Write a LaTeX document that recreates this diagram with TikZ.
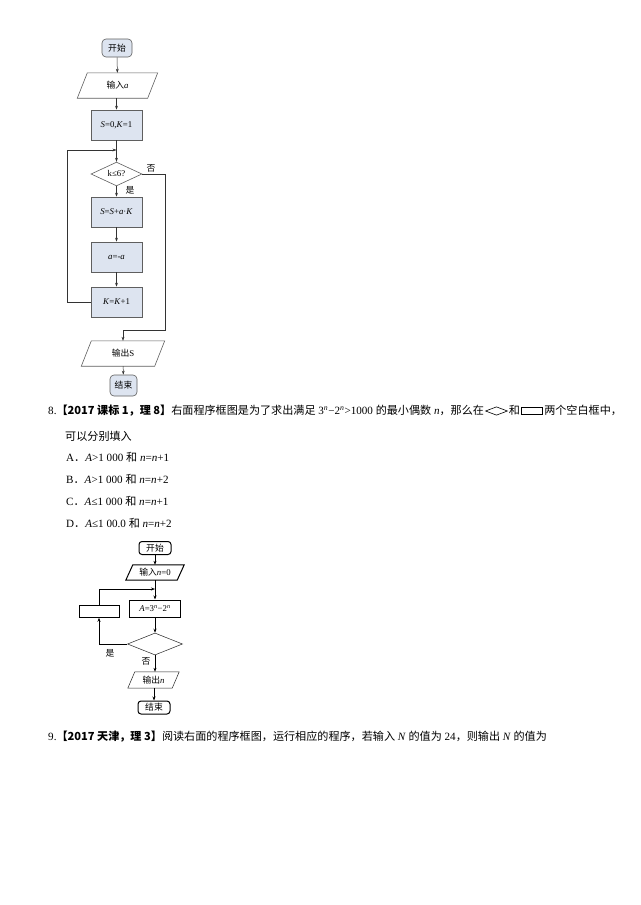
\documentclass[tikz,border=0pt]{standalone}
\usepackage{fontspec}
\setmainfont{Liberation Serif}
\newfontfamily\cjk{Noto Sans CJK SC}
\usetikzlibrary{shapes.geometric,arrows.meta,calc}
\definecolor{boxblue}{RGB}{221,228,240}
\definecolor{boxline}{RGB}{95,95,95}
\newcommand\pgm[3]{\draw[#1] ($(#2.south west)+(-#3,0)$) -- ($(#2.north west)+(#3,0)$) -- ($(#2.north east)+(#3,0)$) -- ($(#2.south east)+(-#3,0)$) -- cycle;}
\begin{document}
\begin{tikzpicture}[x=1pt,y=-1pt,
  fc/.style={draw=boxline, fill=boxblue, line width=0.6pt, inner sep=0, font=\fontsize{8.8}{10}\selectfont},
  fcr/.style={fc, rounded corners=4pt},
  fcp/.style={inner sep=0, font=\fontsize{8.8}{10}\selectfont},
  fcd/.style={fc, diamond, fill=white},
  ar/.style={draw=black!80, line width=0.5pt, -{Stealth[length=4pt,width=2.8pt]}},
  ln/.style={draw=black!80, line width=0.5pt},
  lb/.style={inner sep=0, font=\fontsize{8.8}{10}\selectfont},
  tb/.style={draw=black, line width=1pt, inner sep=0, font=\fontsize{8.8}{10}\selectfont},
  tn/.style={draw=black!85, line width=0.5pt, inner sep=0, font=\fontsize{8.8}{10}\selectfont},
  ar2/.style={draw=black, line width=0.6pt, -{Stealth[length=4pt,width=3pt]}},
  ln2/.style={draw=black, line width=0.6pt},
  tx/.style={inner sep=0, anchor=west, text height=8.5pt, text depth=2.5pt, font=\fontsize{11.1}{13}\selectfont},
]
\useasboundingbox[fill=white] (0,0) rectangle (640,905);

% ---------- first flowchart ----------
\node[fcr, minimum width=30, minimum height=18] (st) at (117,48) {\cjk 开始};
\node[fcp, minimum width=70, minimum height=25] (in) at (117.5,85.5) {{\cjk 输入}\textit{a}};
\pgm{draw=boxline, line width=0.6pt}{in}{5}
\node[fc, minimum width=51, minimum height=30] (ini) at (116.5,125) {\textit{S}=0,\textit{K}=1};
\node[fcd, minimum width=51, minimum height=22] (d1) at (116.5,174) {k≤6?};
\node[fc, minimum width=51, minimum height=30] (b1) at (116.5,212) {\textit{S}=\textit{S}+\textit{a}·\textit{K}};
\node[fc, minimum width=51, minimum height=30] (b2) at (116.5,257) {\textit{a}=-\textit{a}};
\node[fc, minimum width=51, minimum height=30] (b3) at (116.5,302) {\textit{K}=\textit{K}+1};
\node[fcp, minimum width=73, minimum height=25] (out) at (123,353.5) {{\cjk 输出}S};
\pgm{draw=boxline, line width=0.6pt}{out}{5}
\node[fcr, minimum width=27, minimum height=21] (en) at (123.5,385.5) {\cjk 结束};
\coordinate (j1) at (116.5,150);
\coordinate (r1) at (165,174);
\coordinate (r2) at (165,330);
\coordinate (r3) at (123,330);
\coordinate (l1) at (67,302);
\coordinate (l2) at (67,150);

\draw[ar] (st) -- (in);
\draw[ar] (in.south -| ini.north) -- (ini);
\draw[ar] (ini) -- (d1);
\draw[ar] (d1) -- (b1);
\draw[ar] (b1) -- (b2);
\draw[ar] (b2) -- (b3);
\draw[ln] (b3.west) -- (l1) -- (l2);
\draw[ar] (l2) -- (j1);
\draw[ln] (d1.east) -- (r1) -- (r2) -- (r3);
\draw[ar] (r3) -- (out);
\draw[ar] (out) -- (en);
\node[lb] (no1) at (151,168) {\cjk 否};
\node[lb] (yes1) at (130,190) {\cjk 是};

% ---------- text ----------
\node[tx] (l8a) at (48,411) {8.{\cjk\bfseries 【2017 课标 1，理 8】}{\cjk 右面程序框图是为了求出满足} 3\textsuperscript{\textit{n}}−2\textsuperscript{\textit{n}}>1000 {\cjk 的最小偶数} \textit{n}{\cjk ，那么在}};
\node[draw=black, line width=0.6pt, diamond, inner sep=0, minimum width=22, minimum height=8.5, anchor=west] (sy1) at ([xshift=1pt]l8a.east) {};
\node[tx] (l8b) at ([xshift=1pt]sy1.east) {\cjk 和};
\node[draw=black, line width=0.8pt, inner sep=0, minimum width=21, minimum height=7, anchor=west] (sy2) at ([xshift=1pt]l8b.east) {};
\node[tx] (l8c) at ([xshift=1pt]sy2.east) {\cjk 两个空白框中，};
\node[tx] (l8d) at (65,437) {\cjk 可以分别填入};
\node[tx] (oa) at (66,458.5) {A{\cjk ．}\textit{A}>1 000 {\cjk 和} \textit{n}=\textit{n}+1};
\node[tx] (ob) at (66,480.5) {B{\cjk ．}\textit{A}>1 000 {\cjk 和} \textit{n}=\textit{n}+2};
\node[tx] (oc) at (66,502.5) {C{\cjk ．}\textit{A}≤1 000 {\cjk 和} \textit{n}=\textit{n}+1};
\node[tx] (od) at (66,524) {D{\cjk ．}\textit{A}≤1 00.0 {\cjk 和} \textit{n}=\textit{n}+2};

% ---------- second flowchart ----------
\node[tb, rounded corners=3pt, minimum width=32, minimum height=13] (st2) at (155,548) {\cjk 开始};
\node[inner sep=0, font=\fontsize{8.8}{10}\selectfont, minimum width=51, minimum height=15] (in2) at (155,572.5) {{\cjk 输入}\textit{n}=0};
\pgm{draw=black, line width=1pt}{in2}{3.5}
\node[tb, minimum width=51, minimum height=17] (ab) at (155,608.5) {\textit{A}=3\textsuperscript{\textit{n}}−2\textsuperscript{\textit{n}}};
\node[tb, minimum width=40, minimum height=11.5] (bl) at (99,611.5) {};
\node[tn, diamond, minimum width=55, minimum height=22] (d2) at (155,644) {};
\node[inner sep=0, font=\fontsize{8.8}{10}\selectfont, minimum width=44, minimum height=16] (out2) at (153.5,680) {{\cjk 输出}\textit{n}};
\pgm{draw=black!85, line width=0.5pt}{out2}{3.5}
\node[tb, rounded corners=3pt, minimum width=32, minimum height=13] (en2) at (154,707.5) {\cjk 结束};
\coordinate (p1) at (99,644);
\coordinate (p2) at (99,589);
\coordinate (p3) at (155,589);

\draw[ar2] (st2.south -| in2.north) -- (in2);
\draw[ar2] (in2) -- (ab);
\draw[ar2] (ab) -- (d2);
\draw[ln2] (d2.west) -- (p1);
\draw[ar2] (p1) -- (bl);
\draw[ln2] (bl) -- (p2);
\draw[ar2] (p2) -- (p3);
\draw[ar2] (d2.south) -- (d2.south |- out2.north);
\draw[ar2] (out2.south -| en2.north) -- (en2);
\node[lb] (yes2) at (110,653.5) {\cjk 是};
\node[lb] (no2) at (146,661) {\cjk 否};

% ---------- line 9 ----------
\node[tx] (l9) at (48,737) {9.{\cjk\bfseries 【2017 天津，理 3】}{\cjk 阅读右面的程序框图，运行相应的程序，若输入} \textit{N} {\cjk 的值为} 24{\cjk ，则输出} \textit{N} {\cjk 的值为}};
\end{tikzpicture}
\end{document}
